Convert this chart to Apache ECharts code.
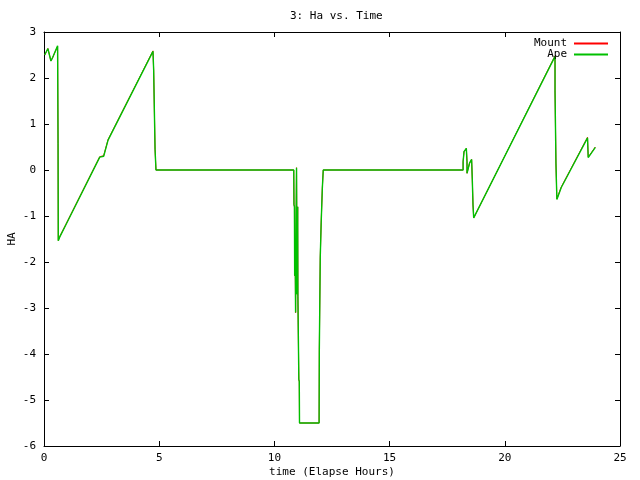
<!DOCTYPE html>
<html>
<head>
<meta charset="utf-8">
<script src="https://cdn.jsdelivr.net/npm/echarts@6/dist/echarts.min.js"></script>
<style>html,body{margin:0;padding:0;background:#fff}#c{width:640px;height:480px}</style>
</head>
<body>
<div id="c"></div>
<script>
const titleText = '3: Ha vs. Time';
const xName = 'time (Elapse Hours)';
const yName = 'HA';
const seriesNames = ['Mount', 'Ape'];
const xTicks = [0, 5, 10, 15, 20, 25];
const yTicks = [-6, -5, -4, -3, -2, -1, 0, 1, 2, 3];

const apeData = [
  [0.03,2.50],[0.17,2.64],[0.30,2.37],[0.38,2.45],[0.59,2.70],[0.61,0.58],[0.62,-1.54],
  [0.68,-1.46],[0.94,-1.20],[2.42,0.28],[2.59,0.30],[2.78,0.65],[4.73,2.58],[4.76,2.62],
  [4.76,2.17],[4.79,2.17],[4.79,1.30],[4.82,1.30],[4.82,0.45],[4.86,0.45],[4.86,0.00],
  [10.84,0.00],[10.85,-0.75],[10.87,-0.80],[10.88,-2.30],[10.90,-1.70],[10.92,-3.10],
  [10.93,-1.90],[10.96,0.05],[10.97,-1.00],[10.98,-2.70],[11.01,-0.80],[11.02,-2.75],
  [11.05,-2.75],[11.06,-4.55],[11.08,-4.60],[11.09,-5.50],[11.94,-5.50],[11.95,-3.90],
  [11.98,-3.90],[11.99,-1.90],[12.02,-1.90],[12.03,-1.15],[12.07,-1.15],[12.08,-0.40],
  [12.11,-0.40],[12.12,0.00],[18.19,0.00],[18.19,0.18],[18.23,0.20],[18.23,0.40],
  [18.33,0.47],[18.36,0.18],[18.36,-0.07],[18.41,-0.05],[18.47,0.15],[18.56,0.23],
  [18.59,-0.22],[18.62,-0.76],[18.65,-1.04],[18.68,-1.05],[22.18,2.47],[22.18,1.70],
  [22.22,1.70],[22.22,0.15],[22.26,0.15],[22.26,-0.64],[22.29,-0.64],[22.45,-0.38],
  [23.59,0.70],[23.62,0.27],[23.93,0.49]
];

const mountData = [
  [0.03,2.50],[0.17,2.64],[0.30,2.37],[0.38,2.45],[0.59,2.69],[0.61,0.58],[0.62,-1.53],
  [0.68,-1.45],[0.94,-1.19],[2.42,0.29],[2.59,0.31],[2.78,0.66],[4.73,2.59],[4.76,2.62],
  [4.76,2.17],[4.79,2.17],[4.79,1.30],[4.82,1.30],[4.82,0.45],[4.86,0.45],[4.86,0.00],
  [10.84,0.00],[10.85,-0.75],[10.87,-0.80],[10.88,-2.30],[10.90,-1.70],[10.92,-3.10],
  [10.93,-1.90],[10.96,0.05],[10.97,-1.00],[10.98,-2.70],[11.01,-0.80],[11.02,-2.75],
  [11.05,-2.75],[11.06,-4.55],[11.08,-4.60],[11.09,-5.50],[11.94,-5.50],[11.95,-3.90],
  [11.98,-3.90],[11.99,-1.90],[12.02,-1.90],[12.03,-1.15],[12.07,-1.15],[12.08,-0.40],
  [12.11,-0.40],[12.12,0.00],[18.19,0.00],[18.19,0.18],[18.23,0.20],[18.23,0.40],
  [18.33,0.47],[18.36,0.18],[18.36,-0.07],[18.41,-0.05],[18.47,0.15],[18.56,0.23],
  [18.59,-0.22],[18.62,-0.76],[18.65,-1.04],[18.68,-1.04],[22.18,2.48],[22.18,1.72],
  [22.22,1.72],[22.22,0.15],[22.26,0.15],[22.26,-0.63],[22.29,-0.63],[22.45,-0.37],
  [23.59,0.71],[23.62,0.28],[23.93,0.50]
];

const font = 'DejaVu Sans Mono';
const txt = {color:'#000', fontFamily: font, fontSize: 11};
const lineStyleAxis = {color:'#000', width:1};

function xAx(pos, show) {
  return {
    type:'value', position: pos, min: xTicks[0], max: xTicks[xTicks.length-1], interval: 5,
    axisLine:{show:true, onZero:false, lineStyle:lineStyleAxis},
    axisTick:{show:true, inside:true, length:5, lineStyle:lineStyleAxis},
    axisLabel:Object.assign({show:show, margin:7}, txt),
    splitLine:{show:false},
    name: show ? xName : '', nameLocation:'middle', nameGap:21, nameMoveOverlap:false, nameTextStyle: txt
  };
}
function yAx(pos, show) {
  return {
    type:'value', position: pos, min: yTicks[0], max: yTicks[yTicks.length-1], interval: 1,
    axisLine:{show:true, onZero:false, lineStyle:lineStyleAxis},
    axisTick:{show:true, inside:true, length:5, lineStyle:lineStyleAxis},
    axisLabel:Object.assign({show:show, margin:8}, txt),
    splitLine:{show:false},
    name: show ? yName : '', nameLocation:'middle', nameGap:26, nameRotate:90, nameMoveOverlap:false, nameTextStyle: txt
  };
}

const chart = echarts.init(document.getElementById('c'), null, {renderer:'canvas'});
chart.setOption({
  animation:false,
  backgroundColor:'#fff',
  title:{text:titleText, left:285, top:6, textStyle:Object.assign({fontWeight:'normal'}, txt)},
  legend:{
    orient:'vertical', right:27, top:33, align:'right', itemGap:0,
    itemWidth:34, itemHeight:2, icon:'rect',
    textStyle:Object.assign({padding:[0,2,0,0], lineHeight:11}, txt),
    data: seriesNames
  },
  grid:{left:44, right:20, top:32, bottom:34, containLabel:false, outerBoundsMode:'none'},
  xAxis:[xAx('bottom', true), xAx('top', false)],
  yAxis:[yAx('left', true), yAx('right', false)],
  series:[
    {name:seriesNames[0], type:'line', data:mountData, showSymbol:false, symbol:'none', z:2,
     lineStyle:{color:'#ff0000', width:1}, itemStyle:{color:'#ff0000'}, xAxisIndex:0, yAxisIndex:0},
    {name:seriesNames[1], type:'line', data:apeData, showSymbol:false, symbol:'none', z:3,
     lineStyle:{color:'#00c000', width:1.4}, itemStyle:{color:'#00c000'}, xAxisIndex:0, yAxisIndex:0}
  ]
});
</script>
</body>
</html>
